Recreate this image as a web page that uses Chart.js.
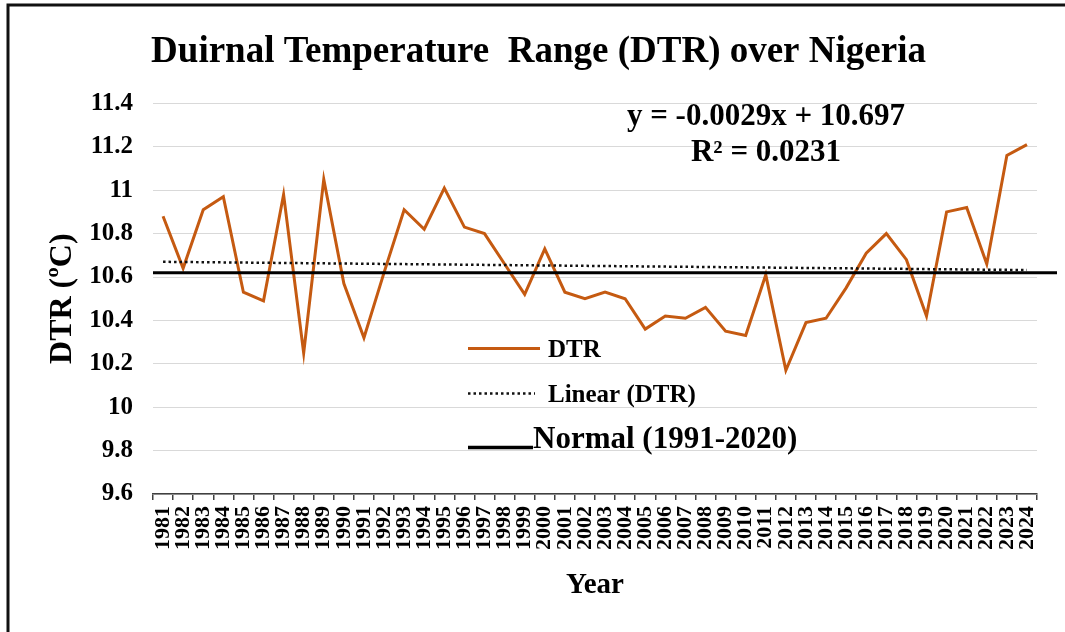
<!DOCTYPE html>
<html>
<head>
<meta charset="utf-8">
<title>DTR over Nigeria</title>
<script src="https://cdn.jsdelivr.net/npm/chart.js@4.4.1/dist/chart.umd.min.js"></script>
<style>
  html, body { margin: 0; padding: 0; background: #fff; }
  #wrap { position: relative; width: 1065px; height: 632px; }
</style>
</head>
<body>
<div id="wrap"><canvas id="dtrChart" width="1065" height="632"></canvas></div>
<script>
const years = [
    '1981', '1982', '1983', '1984', '1985', '1986', '1987', '1988', '1989', '1990',
    '1991', '1992', '1993', '1994', '1995', '1996', '1997', '1998', '1999', '2000',
    '2001', '2002', '2003', '2004', '2005', '2006', '2007', '2008', '2009', '2010',
    '2011', '2012', '2013', '2014', '2015', '2016', '2017', '2018', '2019', '2020',
    '2021', '2022', '2023', '2024'
];
const dtrValues = [
    10.88, 10.64, 10.91, 10.97, 10.53, 10.49, 10.98, 10.25, 11.05, 10.57,
    10.32, 10.62, 10.91, 10.82, 11.01, 10.83, 10.80, 10.66, 10.52, 10.73,
    10.53, 10.50, 10.53, 10.50, 10.36, 10.42, 10.41, 10.46, 10.35, 10.33,
    10.61, 10.17, 10.39, 10.41, 10.55, 10.71, 10.80, 10.68, 10.42, 10.90,
    10.92, 10.66, 11.16, 11.21
];
// trend line read at first and last year
const trendEnds = [10.67, 10.632];
const normalValue = 10.62;
const yMin = 9.6, yMax = 11.4, yStep = 0.2;
const equationLines = ['y = -0.0029x + 10.697', 'R\u00b2 = 0.0231'];
const legendLabels = ['DTR', 'Linear (DTR)', 'Normal (1991-2020)'];

const SERIF = "'Liberation Serif', 'Times New Roman', serif";
const DTR_COLOR = '#C55A11';

// trend data: only the two end points, the line spans the gap
const trendData = years.map((y, i) => i === 0 ? trendEnds[0] : (i === years.length - 1 ? trendEnds[1] : null));

//
const framePlugin = {
    id: 'frame',
    beforeDraw(chart) {
        const { ctx, width, height } = chart;
        ctx.save();
        ctx.fillStyle = '#fff';
        ctx.fillRect(0, 0, width, height);
        ctx.strokeStyle = '#111';
        ctx.lineWidth = 3;
        ctx.beginPath();
        ctx.moveTo(8, height);
        ctx.lineTo(8, 5);
        ctx.lineTo(width, 5);
        ctx.stroke();
        ctx.restore();
    }
};
//
const normalLinePlugin = {
    id: 'normalLine',
    afterDatasetsDraw(chart) {
        const { ctx, chartArea: { left, right }, scales: { y } } = chart;
        const py = y.getPixelForValue(normalValue);
        ctx.save();
        ctx.strokeStyle = '#000';
        ctx.lineWidth = 3;
        ctx.beginPath();
        ctx.moveTo(left, py);
        ctx.lineTo(right + 20, py);
        ctx.stroke();
        ctx.restore();
    }
};
//
const equationPlugin = {
    id: 'equation',
    afterDraw(chart) {
        const { ctx, chartArea: { left, top } } = chart;
        ctx.save();
        ctx.font = `bold 31px ${SERIF}`;
        ctx.fillStyle = '#000';
        ctx.textAlign = 'center';
        ctx.textBaseline = 'alphabetic';
        ctx.fillText(equationLines[0], left + 613, top + 22);
        ctx.fillText(equationLines[1], left + 613, top + 58);
        ctx.restore();
    }
};
//
const legendPlugin = {
    id: 'insideLegend',
    afterDraw(chart) {
        const { ctx, chartArea: { left, top } } = chart;
        const x0 = left + 315;
        ctx.save();
        ctx.fillStyle = '#000';
        ctx.textBaseline = 'alphabetic';

        // DTR
        ctx.strokeStyle = DTR_COLOR;
        ctx.lineWidth = 3;
        ctx.beginPath();
        ctx.moveTo(x0, top + 245);
        ctx.lineTo(x0 + 72, top + 245);
        ctx.stroke();
        ctx.font = `bold 25px ${SERIF}`;
        ctx.fillText(legendLabels[0], x0 + 80, top + 254);

        // Linear (DTR)
        ctx.strokeStyle = '#111';
        ctx.lineWidth = 2.5;
        ctx.setLineDash([2.5, 3]);
        ctx.beginPath();
        ctx.moveTo(x0, top + 290);
        ctx.lineTo(x0 + 67, top + 290);
        ctx.stroke();
        ctx.setLineDash([]);
        ctx.font = `bold 25px ${SERIF}`;
        ctx.fillText(legendLabels[1], x0 + 80, top + 299);

        // Normal
        ctx.strokeStyle = '#000';
        ctx.lineWidth = 3.5;
        ctx.beginPath();
        ctx.moveTo(x0, top + 344);
        ctx.lineTo(x0 + 65, top + 344);
        ctx.stroke();
        ctx.font = `bold 31px ${SERIF}`;
        ctx.fillText(legendLabels[2], x0 + 65, top + 345);
        ctx.restore();
    }
};

Chart.defaults.font.family = SERIF;
Chart.defaults.font.weight = 'bold';
Chart.defaults.color = '#000';

new Chart(document.getElementById('dtrChart'), {
    type: 'line',
    data: {
        labels: years,
        datasets: [
            {
                label: 'DTR',
                data: dtrValues,
                borderColor: DTR_COLOR,
                backgroundColor: DTR_COLOR,
                borderWidth: 3,
                pointRadius: 0,
                tension: 0,
                order: 2,
            },
            {
                label: 'Linear (DTR)',
                data: trendData,
                borderColor: '#111',
                borderWidth: 2.5,
                borderDash: [2.5, 3],
                pointRadius: 0,
                spanGaps: true,
                order: 1,
            }
        ]
    },
    options: {
        responsive: false,
        animation: false,
        layout: { padding: { top: 10, left: 40, right: 28, bottom: 0 } },
        plugins: {
            legend: { display: false },
            tooltip: { enabled: false },
            title: {
                display: true,
                text: 'Duirnal Temperature  Range (DTR) over Nigeria',
                font: { size: 37, weight: 'bold', family: SERIF },
                color: '#000',
                padding: { top: 20, bottom: 29 },
            }
        },
        scales: {
            x: {
                offset: true,
                grid: {
                    offset: true,
                    drawOnChartArea: false,
                    drawTicks: true,
                    tickLength: 6,
                    color: '#404040',
                    lineWidth: 1.5,
                },
                border: { display: true, color: '#404040', width: 1.5 },
                ticks: {
                    autoSkip: false,
                    minRotation: 90,
                    maxRotation: 90,
                    padding: 6,
                    font: { size: 22, weight: 'bold' },
                },
                title: {
                    display: true,
                    text: 'Year',
                    font: { size: 29, weight: 'bold' },
                    padding: { top: 0, bottom: 29 },
                },
                afterFit(scale) { scale.height = 138; }
            },
            y: {
                min: yMin,
                max: yMax,
                grid: { color: '#d9d9d9', lineWidth: 1, drawTicks: false },
                border: { display: false },
                ticks: {
                    stepSize: yStep,
                    padding: 20,
                    font: { size: 25, weight: 'bold' },
                    callback: (v) => String(Math.round(v * 10) / 10),
                },
                title: {
                    display: true,
                    text: 'DTR (\u00baC)',
                    font: { size: 32, weight: 'bold' },
                    padding: { top: 4, bottom: 0 },
                },
                afterFit(scale) { scale.width = 113; }
            }
        }
    },
    plugins: [framePlugin, normalLinePlugin, equationPlugin, legendPlugin]
});
</script>
</body>
</html>
